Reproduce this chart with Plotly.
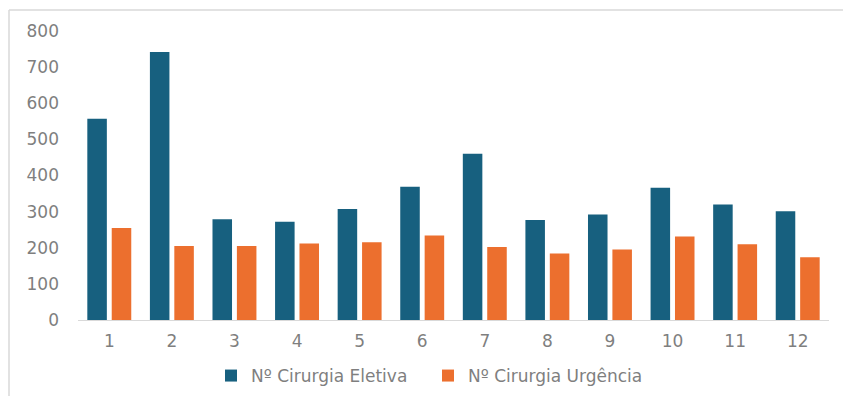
import plotly.graph_objects as go

meses = ["1", "2", "3", "4", "5", "6", "7", "8", "9", "10", "11", "12"]
eletiva = [557, 742, 279, 272, 307, 369, 460, 277, 292, 366, 320, 301]
urgencia = [255, 205, 205, 212, 215, 234, 202, 184, 195, 231, 210, 174]
yticks = [0, 100, 200, 300, 400, 500, 600, 700, 800]

W, H = 843, 396
ML, MR, MT, MB = 78, 14, 31, 76
pw, ph = W - ML - MR, H - MT - MB

font = dict(family="DejaVu Sans", size=17, color="#7f7f7f")

fig = go.Figure()
fig.add_trace(go.Bar(x=meses, y=eletiva, name="Nº Cirurgia Eletiva",
                     marker=dict(color="#17607f", line=dict(width=0))))
fig.add_trace(go.Bar(x=meses, y=urgencia, name="Nº Cirurgia Urgência",
                     marker=dict(color="#ec6f2e", line=dict(width=0))))

fig.update_layout(
    width=W, height=H,
    margin=dict(l=ML, r=MR, t=MT, b=MB, autoexpand=False),
    paper_bgcolor="white", plot_bgcolor="white",
    barmode="group", bargap=0.22, bargroupgap=0.2,
    font=font,
    showlegend=True,
    legend=dict(orientation="h", x=(428 - ML) / pw, xanchor="center",
                y=-56 / ph, yanchor="middle",
                font=font, itemwidth=30, traceorder="normal",
                entrywidth=172, entrywidthmode="pixels"),
)
fig.update_xaxes(showgrid=False, showline=True, linecolor="#d9d9d9", linewidth=1,
                 ticks="", tickfont=font, ticklabelstandoff=6)
fig.update_yaxes(range=[0, 800], tickvals=yticks, showgrid=False, zeroline=False,
                 showline=False, ticks="", tickfont=font, ticklabelstandoff=18)

# outer chart frame (top and left edges)
x0 = (9 - ML) / pw
y_top = 1 + (MT - 10) / ph
fig.add_shape(type="line", xref="paper", yref="paper", x0=x0, x1=1 + MR / pw + 0.01,
              y0=y_top, y1=y_top, line=dict(color="#d9d9d9", width=1.5))
fig.add_shape(type="line", xref="paper", yref="paper", x0=x0, x1=x0,
              y0=y_top, y1=-MB / ph - 0.01, line=dict(color="#d9d9d9", width=1.5))

fig.write_html("out.html")
